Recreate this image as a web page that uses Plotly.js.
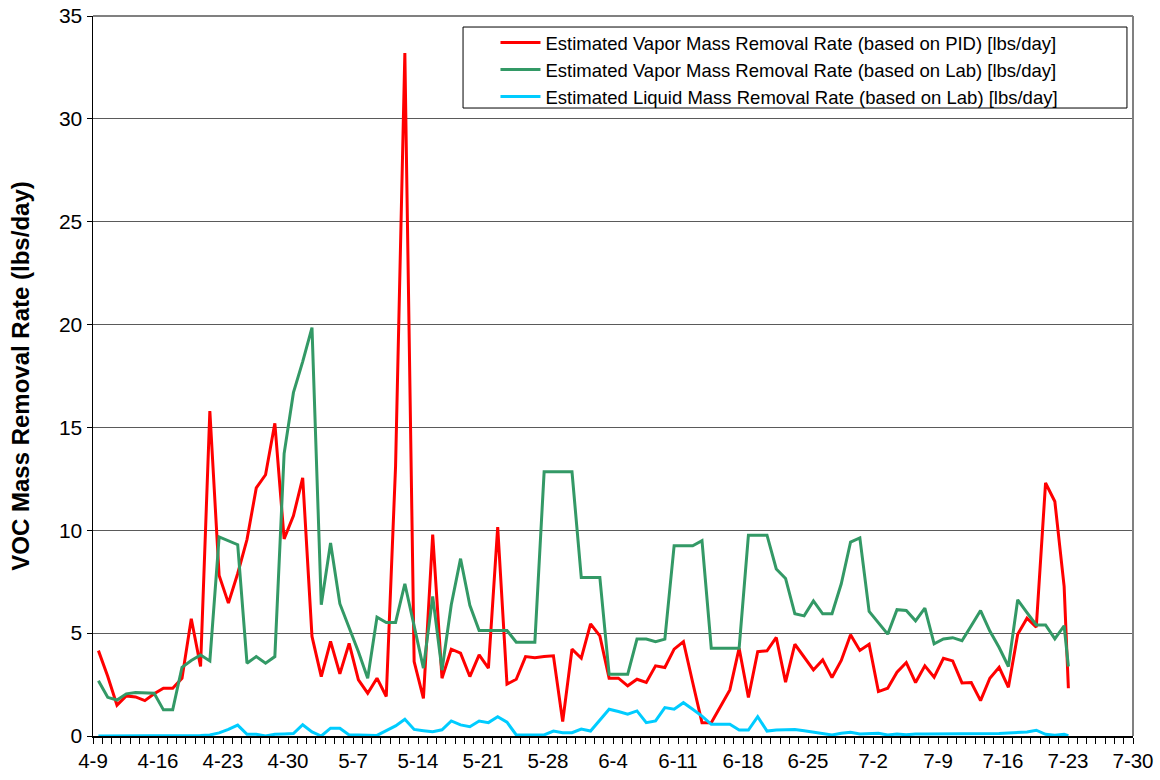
<!DOCTYPE html>
<html>
<head>
<meta charset="utf-8">
<script src="https://cdn.plot.ly/plotly-3.0.1.min.js"></script>
<style>
  html, body { margin: 0; padding: 0; background: #ffffff; }
  #chart { width: 1160px; height: 780px; }
</style>
</head>
<body>
<div id="chart"></div>
<script>
// ---- Data (one sample per day) ----
const startDate = '2008-04-09';
const sampleHour = 14;
const lastSample = '2008-07-23 01:00';

const seriesNames = [
  'Estimated Vapor Mass Removal Rate (based on PID) [lbs/day]',
  'Estimated Vapor Mass Removal Rate (based on Lab) [lbs/day]',
  'Estimated Liquid Mass Removal Rate (based on Lab) [lbs/day]'
];

const vaporPID = [
  4.15, 2.9, 1.5, 1.95, 1.9, 1.72, 2.05, 2.32, 2.32, 2.8,
  5.7, 3.38, 15.8, 7.8, 6.46, 7.9, 9.55, 12.06, 12.7, 15.2,
  9.58, 10.7, 12.55, 4.84, 2.89, 4.6, 3.02, 4.5, 2.73, 2.08,
  2.81, 1.92, 13.1, 33.2, 3.62, 1.83, 9.79, 2.81, 4.22, 4.03,
  2.89, 3.94, 3.3, 10.16, 2.52, 2.76, 3.86, 3.81, 3.86, 3.9,
  0.7, 4.22, 3.78, 5.45, 4.87, 2.81, 2.81, 2.44, 2.76, 2.6,
  3.41, 3.33, 4.22, 4.59, 2.6, 0.65, 0.65, 1.43, 2.24, 4.27,
  1.87, 4.1, 4.14, 4.79, 2.62, 4.46, 3.86, 3.21, 3.7, 2.84,
  3.67, 4.92, 4.16, 4.46, 2.16, 2.32, 3.1, 3.57, 2.6, 3.41,
  2.86, 3.78, 3.65, 2.58, 2.6, 1.72, 2.81, 3.34, 2.37, 4.95,
  5.73, 5.29, 12.3, 11.4, 7.27, 2.32
];

const vaporLab = [
  2.69, 1.88, 1.75, 2.05, 2.11, 2.11, 2.08, 1.27, 1.27, 3.34,
  3.67, 3.94, 3.65, 9.68, 9.5, 9.3, 3.54, 3.86, 3.54, 3.86,
  13.73, 16.69, 18.2, 19.85, 6.38, 9.38, 6.43, 5.3, 4.1, 2.81,
  5.78, 5.52, 5.52, 7.4, 5.35, 3.3, 6.79, 3.2, 6.38, 8.62,
  6.35, 5.13, 5.13, 5.13, 5.13, 4.56, 4.56, 4.56, 12.84, 12.84,
  12.84, 12.84, 7.71, 7.71, 7.71, 3.0, 3.0, 3.0, 4.71, 4.71,
  4.59, 4.71, 9.25, 9.25, 9.25, 9.5, 4.27, 4.27, 4.27, 4.27,
  9.76, 9.76, 9.76, 8.12, 7.66, 5.94, 5.84, 6.57, 5.94, 5.94,
  7.4, 9.43, 9.63, 6.06, 5.52, 4.95, 6.14, 6.1, 5.6, 6.22,
  4.48, 4.72, 4.78, 4.63, 5.36, 6.1, 5.1, 4.3, 3.38, 6.62,
  6.0, 5.4, 5.4, 4.72, 5.36, 3.38
];

const liquidLab = [
  0, 0, 0, 0, 0, 0, 0, 0, 0, 0,
  0, 0.02, 0.05, 0.15, 0.32, 0.53, 0.08, 0.08, 0, 0.08,
  0.1, 0.12, 0.55, 0.2, 0, 0.38, 0.38, 0.05, 0.05, 0.03,
  0.03, 0.26, 0.49, 0.81, 0.32, 0.26, 0.21, 0.3, 0.73, 0.54,
  0.45, 0.73, 0.65, 0.94, 0.67, 0.05, 0.05, 0.05, 0.05, 0.24,
  0.16, 0.16, 0.34, 0.24, 0.78, 1.3, 1.19, 1.06, 1.22, 0.65,
  0.73, 1.38, 1.3, 1.62, 1.3, 0.97, 0.57, 0.57, 0.57, 0.29,
  0.29, 0.94, 0.24, 0.29, 0.3, 0.32, 0.26, 0.18, 0.13, 0.05,
  0.13, 0.18, 0.1, 0.1, 0.13, 0.05, 0.1, 0.06, 0.1, 0.1,
  0.1, 0.1, 0.1, 0.1, 0.1, 0.12, 0.1, 0.12, 0.14, 0.16,
  0.2, 0.28, 0.08, 0.04, 0.08, 0.02
];

// x values: one per day starting at startDate, then the final sample
function pad(n) { return (n < 10 ? '0' : '') + n; }
const dates = [];
const d0 = new Date(startDate + 'T00:00:00Z');
for (let i = 0; i < vaporPID.length - 1; i++) {
  const d = new Date(d0.getTime() + i * 86400000);
  dates.push(d.getUTCFullYear() + '-' + pad(d.getUTCMonth() + 1) + '-' + pad(d.getUTCDate()) + ' ' + pad(sampleHour) + ':00');
}
dates.push(lastSample);

const colors = ['#FF0000', '#339966', '#00CCFF'];
const seriesValues = [vaporPID, vaporLab, liquidLab];

const traces = seriesValues.map((vals, k) => ({
  type: 'scatter',
  mode: 'lines',
  x: dates,
  y: vals,
  name: seriesNames[k],
  line: { color: colors[k], width: 3 }
}));

const fontFamily = '"Liberation Sans", Arial, Helvetica, sans-serif';

const layout = {
  width: 1160,
  height: 780,
  margin: { l: 93, r: 27, t: 16, b: 44 },
  paper_bgcolor: '#ffffff',
  plot_bgcolor: '#ffffff',
  font: { family: fontFamily, color: '#000000', size: 20 },
  showlegend: true,
  legend: {
    x: 0.387, y: 0.9889, xanchor: 'left', yanchor: 'top',
    bgcolor: 'rgba(255,255,255,0)',
    borderwidth: 0,
    itemwidth: 40,
    font: { family: fontFamily, size: 18.5, color: '#000000' },
    tracegroupgap: 0
  },
  xaxis: {
    type: 'date',
    range: ['2008-04-09', '2008-07-30'],
    tick0: '2008-04-09',
    dtick: 7 * 86400000,
    tickformat: '%-m-%-d',
    ticks: 'outside',
    ticklen: 6,
    tickwidth: 1,
    tickcolor: '#000000',
    showline: true,
    linecolor: '#000000',
    linewidth: 1.5,
    showgrid: false,
    zeroline: false,
    tickfont: { family: fontFamily, size: 20.5, color: '#000000' },
    minor: { dtick: 86400000, ticks: 'outside', ticklen: 6, tickwidth: 1, tickcolor: '#000000', showgrid: false }
  },
  yaxis: {
    range: [0, 35],
    dtick: 5,
    ticks: 'outside',
    ticklen: 5,
    tickwidth: 1,
    tickcolor: '#000000',
    showline: true,
    linecolor: '#000000',
    linewidth: 1.5,
    showgrid: true,
    gridcolor: '#5a5a5a',
    gridwidth: 1,
    zeroline: false,
    tickfont: { family: fontFamily, size: 21, color: '#000000' },
    title: {
      text: '<b>VOC Mass Removal Rate (lbs/day)</b>',
      font: { family: fontFamily, size: 24, color: '#000000' },
      standoff: 22
    }
  },
  shapes: [
    // plot-area border (top and right)
    { type: 'line', xref: 'paper', yref: 'paper', x0: 0, x1: 1, y0: 1, y1: 1, line: { color: '#808080', width: 2 } },
    { type: 'line', xref: 'paper', yref: 'paper', x0: 1, x1: 1, y0: 0, y1: 1, line: { color: '#808080', width: 2 } },
    // legend frame
    { type: 'rect', xref: 'paper', yref: 'paper', x0: 0.3558, x1: 0.9942, y0: 0.8722, y1: 0.9847,
      line: { color: '#000000', width: 1 }, fillcolor: '#ffffff', layer: 'above' }
  ]
};

Plotly.newPlot('chart', traces, layout, { displayModeBar: false, staticPlot: true });
</script>
</body>
</html>
